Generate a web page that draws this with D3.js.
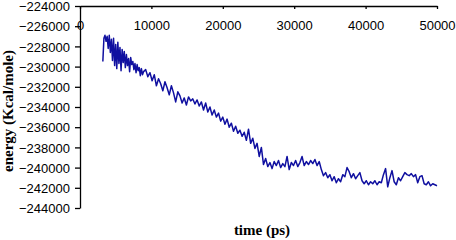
<!DOCTYPE html>
<html>
<head>
<meta charset="utf-8">
<script src="https://cdn.jsdelivr.net/npm/d3@7"></script>
<style>
  body { margin: 0; background: #fff; }
  .axis text { font-family: "Liberation Sans", Arial, sans-serif; font-size: 13px; fill: #000; }
  .axis path, .axis line { stroke: #000; stroke-width: 1.3px; }
  .title { font-family: "Liberation Serif", "Times New Roman", serif; font-weight: bold; font-size: 15px; }
</style>
</head>
<body>
<div class="chart"></div>
<script>
(function(){

//data (time in ps, energy in Kcal/mole)
var times = [3200, 3350, 3500, 3650, 3800, 3950, 4100, 4250, 4400, 4550,
             4700, 4850, 5000, 5150, 5300, 5450, 5600, 5750, 5900, 6050,
             6200, 6350, 6500, 6650, 6800, 6950, 7100, 7250, 7400, 7550,
             7700, 7850, 8000, 8150, 8300, 8450, 8600, 8750, 8900,
             9200, 9500, 9800, 10100, 10400, 10700, 11000, 11300, 11600, 11900,
             12200, 12500, 12800, 13100, 13400, 13700, 14000, 14300, 14600, 14900,
             15200, 15500, 15800, 16100, 16400, 16700, 17000, 17300, 17600, 17900,
             18200, 18500, 18800, 19100, 19400, 19700, 20000, 20300, 20600, 20900,
             21200, 21500, 21800, 22100, 22400, 22700, 23000, 23300, 23600, 23900,
             24200, 24500, 24800, 25100, 25400, 25700, 26000, 26300, 26600, 26900,
             27200, 27500, 27800, 28100, 28400, 28700, 29000, 29300, 29600, 29900,
             30200, 30500, 30800, 31100, 31400, 31700, 32000, 32300, 32600, 32900,
             33200, 33500, 33800, 34100, 34400, 34700, 35000, 35300, 35600, 35900,
             36200, 36500, 36800, 37100, 37400, 37700, 38000, 38300, 38600, 38900,
             39200, 39500, 39800, 40100, 40400, 40700, 41000, 41300, 41600, 41900,
             42200, 42500, 42800, 43100, 43400, 43700, 44000, 44300, 44600, 44900,
             45200, 45500, 45800, 46100, 46400, 46700, 47000, 47300, 47600, 47900,
             48200, 48500, 48800, 49100, 49400, 49700, 50000];

var energy = [-229500, -227200, -226900, -227500, -227000, -228200, -226900, -228600, -227300, -229400,
              -227200, -229900, -227800, -230200, -227600, -229700, -228100, -230400, -228300, -229600,
              -228500, -230100, -228800, -229900, -229200, -230500, -229100, -229800, -229500, -230300,
              -229700, -230600, -229800, -230400, -230100, -230900, -230200, -230800, -230500,
              -230300, -231000, -230600, -231400, -230800, -231900, -231200, -231700, -232400, -231500,
              -232100, -232800, -231900, -232600, -233500, -232500, -232900, -233600, -233100, -233800,
              -233000, -233400, -233200, -233700, -233300, -233900, -233500, -234300, -233600, -234500,
              -234000, -234800, -234300, -235000, -234600, -235400, -235000, -235700, -235200, -236000,
              -235600, -236400, -235900, -236600, -236300, -236900, -236500, -237300, -236200, -237600,
              -237100, -238100, -237600, -238900, -238000, -239700, -239100, -239900, -239500, -240100,
              -239400, -239800, -239300, -240000, -239600, -239900, -238900, -240200, -239500, -239800,
              -239300, -239900, -239500, -238900, -239800, -239400, -239700, -239300, -239600, -239200,
              -239800, -239400, -240200, -240800, -240500, -241000, -240700, -241300, -240900, -241500,
              -241100, -241400, -240700, -240900, -240000, -240400, -241000, -240600, -241100, -240800,
              -240500, -241300, -241600, -241300, -241700, -241400, -241600, -241300, -241700, -241400,
              -241500, -240700, -240100, -241900, -241000, -240300, -241400, -241700, -241000, -241300,
              -240900, -240500, -240700, -240800, -240600, -240900, -240700, -241500, -240900, -240800,
              -241600, -241700, -241400, -241800, -241600, -241700, -241800];

var xTicks = [0, 10000, 20000, 30000, 40000, 50000];
var yTicks = [-224000, -226000, -228000, -230000, -232000, -234000, -236000, -238000, -240000, -242000, -244000];

var width = 456,
    height = 240;

var left = 80, right = 437, top = 6, bottom = 208;

var svg = d3.select(".chart")
    .append("svg")
    .attr("width", width)
    .attr("height", height);

var x = d3.scaleLinear()
    .domain([0, 50000])
    .range([left, right]);

var y = d3.scaleLinear()
    .domain([-224000, -244000])
    .range([top, bottom]);

//y axis on the left
var yAxis = svg.append("g")
    .attr("class", "axis")
    .attr("transform", "translate(" + left + ",0)")
    .call(d3.axisLeft(y)
        .tickValues(yTicks)
        .tickFormat(d3.format("d"))
        .tickSizeInner(5)
        .tickSizeOuter(0)
        .tickPadding(5));
yAxis.selectAll("text").attr("dy", "0.36em");

//x axis sits at the top, labels below the line
svg.append("g")
    .attr("class", "axis")
    .attr("transform", "translate(0," + top + ")")
    .call(d3.axisBottom(x)
        .tickValues(xTicks)
        .tickFormat(d3.format("d"))
        .tickSizeInner(3)
        .tickSizeOuter(0)
        .tickPadding(12));

var points = times.map(function(t, i){ return [t, energy[i]]; });

var line = d3.line()
    .x(function(d){ return x(d[0]); })
    .y(function(d){ return y(d[1]); });

svg.append("path")
    .datum(points)
    .attr("d", line)
    .attr("fill", "none")
    .attr("stroke", "#1010a0")
    .attr("stroke-width", 1.5)
    .attr("stroke-linejoin", "round");

//axis titles
svg.append("text")
    .attr("class", "title")
    .attr("text-anchor", "middle")
    .attr("transform", "translate(13,111) rotate(-90)")
    .text("energy (Kcal/mole)");

svg.append("text")
    .attr("class", "title")
    .attr("text-anchor", "middle")
    .attr("x", 262)
    .attr("y", 235)
    .text("time (ps)");

})();
</script>
</body>
</html>
